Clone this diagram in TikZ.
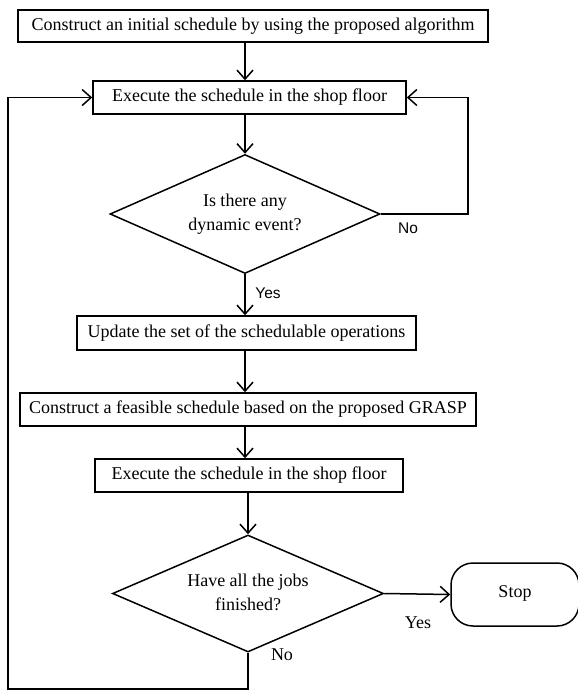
\documentclass[tikz,border=0pt]{standalone}
\usepackage{fontspec}
\setmainfont{Liberation Serif}
\newfontfamily\tagsans{Liberation Sans}
\usetikzlibrary{arrows.meta,shapes.geometric}
\tikzset{
  every picture/.style={line width=1.5pt, font=\fontsize{18}{24}\selectfont},
  box/.style={draw, rectangle, align=center, inner sep=0pt},
  decide/.style={draw, diamond, aspect=2.27, align=center, inner sep=0pt},
  stopbox/.style={draw, rectangle, rounded corners=22pt, align=center, inner sep=0pt},
  flow/.style={-{Straight Barb[length=9pt,width=16pt]}},
  tag/.style={font=\tagsans\fontsize{15.5}{18}\selectfont},
  stag/.style={font=\fontsize{18}{20}\selectfont},
}
\begin{document}
\begin{tikzpicture}[x=1pt, y=-1pt]
\useasboundingbox (0,0) rectangle (578,691);
% steps
\node[box, minimum width=470, minimum height=32] (init) at (253,26) {Construct an initial schedule by using the proposed algorithm};
\node[box, minimum width=313, minimum height=33] (exec1) at (249.5,97.5) {Execute the schedule in the shop floor};
\node[decide, minimum width=270, minimum height=119] (event) at (245,214) {Is there any\\dynamic event?};
\node[box, minimum width=339, minimum height=34] (update) at (246.5,333) {Update the set of the schedulable operations};
\node[box, minimum width=456, minimum height=33] (feasible) at (248,409.5) {Construct a feasible schedule based on the proposed GRASP};
\node[box, minimum width=308, minimum height=33] (exec2) at (249,475.5) {Execute the schedule in the shop floor};
\node[decide, minimum width=271, minimum height=117] (done) at (248,593.5) {\raisebox{4pt}{\begin{tabular}{@{}c@{}}Have all the jobs\\finished?\end{tabular}}};
\node[stopbox, minimum width=128, minimum height=63] (stop) at (515,594.5) {\raisebox{6pt}{Stop}};
% loop corners
\coordinate (rt) at (468,97.5);
\coordinate (lb) at (8,689);
\coordinate (lt) at (8,97.5);
% flow
\draw[flow] (init.south -| event.north) -- (exec1.north -| event.north);
\draw[flow] (exec1.south -| event.north) -- (event.north);
\draw[flow] (event.south) -- (update.north -| event.south);
\draw[flow] (update.south -| event.south) -- (feasible.north -| event.south);
\draw[flow] (feasible.south -| event.south) -- (exec2.north -| event.south);
\draw[flow] (exec2.south -| done.north) -- (done.north);
\draw[flow] (done.east) -- (stop.west);
\draw[flow] (event.east) -| (rt) -- (exec1.east);
\draw[flow] (done.south) |- (lb) -- (lt) -- (exec1.west);
% branch labels
\node[tag] (evno) at (408,228) {No};
\node[tag] (evyes) at (268,293) {Yes};
\node[stag] (dnyes) at (418,623) {Yes};
\node[stag] (dnno) at (282,655) {No};
\end{tikzpicture}
\end{document}
